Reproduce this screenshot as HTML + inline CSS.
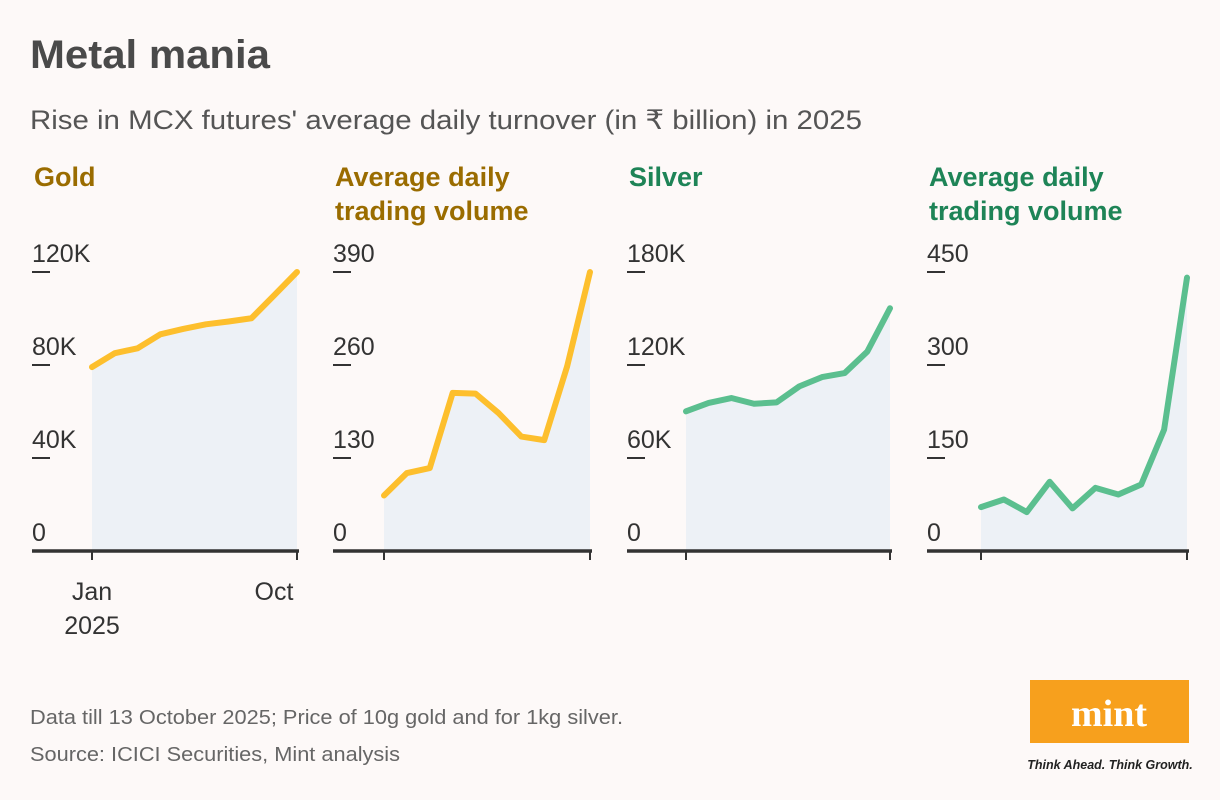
<!DOCTYPE html>
<html><head><meta charset="utf-8"><style>
body{margin:0;background:#fdf9f8;width:1220px;height:800px;overflow:hidden;font-family:"Liberation Sans",sans-serif}
svg{position:absolute;left:0;top:0}
</style></head><body>
<svg id="s" width="1220" height="800">
<text x="30" y="68" font-size="40" font-weight="bold" fill="#4a4a4a" textLength="240" lengthAdjust="spacingAndGlyphs">Metal mania</text>
<text x="30" y="129" font-size="27" fill="#555" textLength="832" lengthAdjust="spacingAndGlyphs">Rise in MCX futures' average daily turnover (in ₹ billion) in 2025</text>
<text x="30" y="724" font-size="20" fill="#666" textLength="593" lengthAdjust="spacingAndGlyphs">Data till 13 October 2025; Price of 10g gold and for 1kg silver.</text>
<text x="30" y="761" font-size="20" fill="#666" textLength="370" lengthAdjust="spacingAndGlyphs">Source: ICICI Securities, Mint analysis</text>
<g>
<rect x="1030" y="680" width="159" height="63" fill="#f7a01d"/>
<text x="1109" y="726" font-size="38" font-weight="bold" font-family="Liberation Serif,serif" fill="#fff" text-anchor="middle">mint</text>
<text x="1110" y="769" font-size="12.5" font-weight="bold" font-style="italic" fill="#222" text-anchor="middle">Think Ahead. Think Growth.</text>
</g>
</svg>
<script>
const goldPrice=[79.1,85.1,87.2,93.2,95.5,97.5,98.7,100.1,110,120];
const goldVolume=[77.6,109,116,221,220,193,160,155,258,390];
const silverPrice=[90.1,95.5,98.7,95.0,95.9,106.2,112.2,114.8,128.7,156.6];
const silverVolume=[70.8,83.1,62.8,111.6,68.7,101.9,91.2,107.3,195.8,440.9];
const goldPriceTicks=["0","40K","80K","120K"];
const goldVolumeTicks=["0","130","260","390"];
const silverPriceTicks=["0","60K","120K","180K"];
const silverVolumeTicks=["0","150","300","450"];
const panels=[
 {name:'gold-price',title:['Gold'],data:goldPrice,max:120,ticks:goldPriceTicks,ax:32,x0:92,x1:297,tc:'#9a6c00',lc:'#fdbf2d'},
 {name:'gold-volume',title:['Average daily','trading volume'],data:goldVolume,max:390,ticks:goldVolumeTicks,ax:333,x0:384,x1:590,tc:'#9a6c00',lc:'#fdbf2d'},
 {name:'silver-price',title:['Silver'],data:silverPrice,max:180,ticks:silverPriceTicks,ax:627,x0:686,x1:890,tc:'#1e8457',lc:'#5bbf8f'},
 {name:'silver-volume',title:['Average daily','trading volume'],data:silverVolume,max:450,ticks:silverVolumeTicks,ax:927,x0:981,x1:1187,tc:'#1e8457',lc:'#5bbf8f'}
];
const NS='http://www.w3.org/2000/svg',s=document.getElementById('s');
const Y0=551,YT=272;
function mk(t,a,p){const e=document.createElementNS(NS,t);for(const k in a)e.setAttribute(k,a[k]);(p||s).appendChild(e);return e;}
panels.forEach(p=>{
 const g=mk('g',{});
 
 
 p.title.forEach((t,i)=>{const e=mk('text',{x:p.ax+2,y:186+i*34,'font-size':27,'font-weight':'bold',fill:p.tc},g);e.textContent=t;
  
  });
 const xs=i=>p.x0+(p.x1-p.x0)*i/(p.data.length-1);
 const ys=v=>Y0-(Y0-YT)*v/p.max;
 p.ticks.forEach((t,i)=>{const y=Y0-(Y0-YT)*i/(p.ticks.length-1);
  const e=mk('text',{x:p.ax,y:y-10,'font-size':25,fill:'#333'},g);e.textContent=t;
  
  
  if(i>0){const l=mk('line',{x1:p.ax,x2:p.ax+18,y1:y,y2:y,stroke:'#333','stroke-width':2},g);
   
   }
 });
 let d='M'+xs(0)+','+Y0;p.data.forEach((v,i)=>d+=' L'+xs(i)+','+ys(v));d+=' L'+xs(p.data.length-1)+','+Y0+'Z';
 const a=mk('path',{d:d,fill:'#edf1f6'},g);
 
 
 const ln=mk('polyline',{points:p.data.map((v,i)=>xs(i)+','+ys(v)).join(' '),fill:'none',stroke:p.lc,'stroke-width':6,'stroke-linejoin':'round','stroke-linecap':'round'},g);
 
 
 const ax=mk('line',{x1:p.ax,x2:p.x1+2,y1:Y0,y2:Y0,stroke:'#333','stroke-width':3.5},g);
 
 
 [p.x0,p.x1].forEach(x=>{const t=mk('line',{x1:x,x2:x,y1:Y0,y2:Y0+9,stroke:'#333','stroke-width':2},g);
  
  });
});
[['Jan',92,600],['2025',92,634],['Oct',274,600]].forEach(a=>{const e=mk('text',{x:a[1],y:a[2],'font-size':25,fill:'#333','text-anchor':'middle'});e.textContent=a[0];
 
 });
</script>
</body></html>
